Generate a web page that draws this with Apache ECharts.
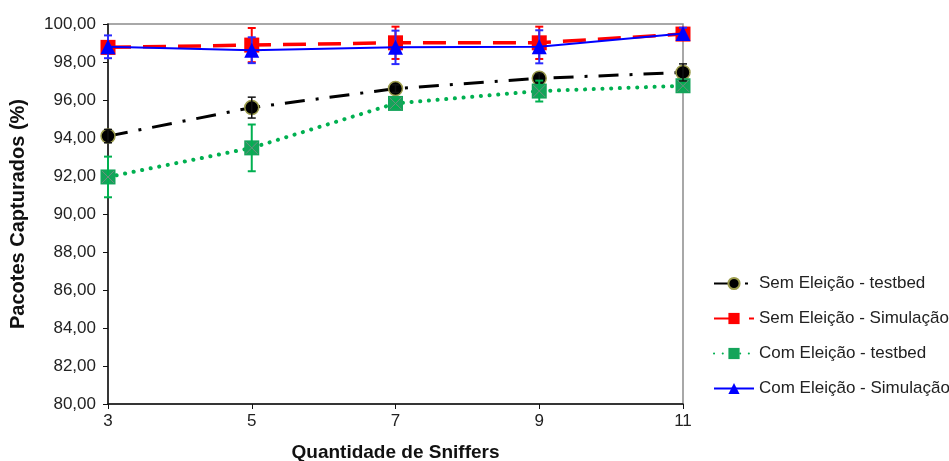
<!DOCTYPE html>
<html>
<head>
<meta charset="utf-8">
<script src="https://cdn.jsdelivr.net/npm/echarts@6/dist/echarts.min.js"></script>
<style>html,body{margin:0;padding:0;background:#fff}#c{width:949px;height:461px}</style>
</head>
<body>
<div id="c"></div>
<script>
var sniffers = [3, 5, 7, 9, 11];
var seriesNames = ['Sem Eleição - testbed', 'Sem Eleição - Simulação', 'Com Eleição - testbed', 'Com Eleição - Simulação'];
var semTestbed = [94.10, 95.60, 96.60, 97.14, 97.45];
var semTestbedErr = [0.35, 0.55, 0.2, 0.25, 0.45];
var semSimul = [98.77, 98.89, 99.01, 99.01, 99.47];
var semSimulErr = [0.25, 0.90, 0.85, 0.85, 0.25];
var comTestbed = [91.95, 93.48, 95.82, 96.47, 96.75];
var comTestbedErr = [1.07, 1.23, 0.2, 0.55, 0.15];
var comSimul = [98.80, 98.62, 98.77, 98.80, 99.50];
var comSimulErr = [0.6, 0.68, 0.88, 0.87, 0.3];
var yTicks = [80, 82, 84, 86, 88, 90, 92, 94, 96, 98, 100];

function pairs(vals) { return sniffers.map(function (x, i) { return [x, vals[i]]; }); }
function errData(vals, errs) { return sniffers.map(function (x, i) { return [x, vals[i], errs[i]]; }); }

function errSeries(vals, errs, color, width, cross) {
  return {
    type: 'custom',
    z: 4,
    silent: true,
    data: errData(vals, errs),
    renderItem: function (params, api) {
      var x = api.value(0), m = api.value(1), e = api.value(2);
      var hi = api.coord([x, m + e]);
      var lo = api.coord([x, m - e]);
      var c = api.coord([x, m]);
      var cap = 4;
      var st = { stroke: color, lineWidth: width };
      var children = [
        { type: 'line', shape: { x1: hi[0], y1: hi[1], x2: lo[0], y2: lo[1] }, style: st },
        { type: 'line', shape: { x1: hi[0] - cap, y1: hi[1], x2: hi[0] + cap, y2: hi[1] }, style: st },
        { type: 'line', shape: { x1: lo[0] - cap, y1: lo[1], x2: lo[0] + cap, y2: lo[1] }, style: st }
      ];
      if (cross) {
        var d = 6;
        var cs = { stroke: '#6f8f80', lineWidth: 1 };
        children.push({ type: 'line', shape: { x1: c[0] - d, y1: c[1] - d, x2: c[0] + d, y2: c[1] + d }, style: cs });
        children.push({ type: 'line', shape: { x1: c[0] - d, y1: c[1] + d, x2: c[0] + d, y2: c[1] - d }, style: cs });
      }
      return { type: 'group', children: children };
    }
  };
}

var chart = echarts.init(document.getElementById('c'), null, { renderer: 'canvas' });
var font = 'Liberation Sans, Arial, sans-serif';
chart.setOption({
  animation: false,
  grid: { left: 108, right: 266, top: 24, bottom: 57, show: true, borderColor: '#8c8c8c', borderWidth: 1.5, containLabel: false, outerBoundsMode: 'none' },
  legend: {
    data: seriesNames,
    orient: 'vertical',
    left: 708,
    top: 270,
    itemWidth: 40,
    itemHeight: 14,
    itemGap: 18,
    textStyle: { fontFamily: font, fontSize: 17, color: '#222' }
  },
  xAxis: {
    type: 'value', min: 3, max: 11, interval: 2,
    name: 'Quantidade de Sniffers', nameLocation: 'middle', nameGap: 39,
    nameTextStyle: { fontFamily: font, fontSize: 19, fontWeight: 'bold', color: '#111' },
    axisLine: { lineStyle: { color: '#111', width: 1.5 } },
    axisTick: { show: true, length: 5, lineStyle: { color: '#111' } },
    axisLabel: { fontFamily: font, fontSize: 17, color: '#222', margin: 9 },
    splitLine: { show: false }
  },
  yAxis: {
    type: 'value', min: yTicks[0], max: yTicks[yTicks.length - 1], interval: 2,
    name: 'Pacotes Capturados (%)', nameLocation: 'middle', nameGap: 80, nameRotate: 90,
    nameTextStyle: { fontFamily: font, fontSize: 20, fontWeight: 'bold', color: '#111' },
    axisLine: { show: true, lineStyle: { color: '#111', width: 1.5 } },
    axisTick: { show: true, length: 5, lineStyle: { color: '#111' } },
    axisLabel: { fontFamily: font, fontSize: 17, color: '#222', margin: 12,
      formatter: function (v) { return v.toFixed(2).replace('.', ','); } },
    splitLine: { show: false }
  },
  series: [
    {
      name: seriesNames[0], type: 'line', data: pairs(semTestbed), z: 3,
      symbol: 'circle', symbolSize: 14,
      itemStyle: { color: '#000', borderColor: '#9c9c4c', borderWidth: 1.5 },
      lineStyle: { color: '#000', width: 3, type: [20, 11, 3, 11] }
    },
    errSeries(semTestbed, semTestbedErr, '#111', 1.5, false),
    {
      name: seriesNames[1], type: 'line', data: pairs(semSimul), z: 3,
      symbol: 'rect', symbolSize: 15,
      itemStyle: { color: '#ff0000' },
      lineStyle: { color: '#ff0000', width: 3.5, type: [23, 12] }
    },
    errSeries(semSimul, semSimulErr, '#ff0000', 2, false),
    {
      name: seriesNames[2], type: 'line', data: pairs(comTestbed), z: 3,
      symbol: 'rect', symbolSize: 15,
      itemStyle: { color: '#14a45a' },
      lineStyle: { color: '#00b050', width: 4, type: [0.1, 8.6], cap: 'round' }
    },
    errSeries(comTestbed, comTestbedErr, '#00b050', 2, true),
    {
      name: seriesNames[3], type: 'line', data: pairs(comSimul), z: 5,
      symbol: 'triangle', symbolSize: 15,
      itemStyle: { color: '#0000ff' },
      lineStyle: { color: '#0000ff', width: 2, type: 'solid' }
    },
    errSeries(comSimul, comSimulErr, '#2a2aff', 2, false)
  ]
});
</script>
</body>
</html>
